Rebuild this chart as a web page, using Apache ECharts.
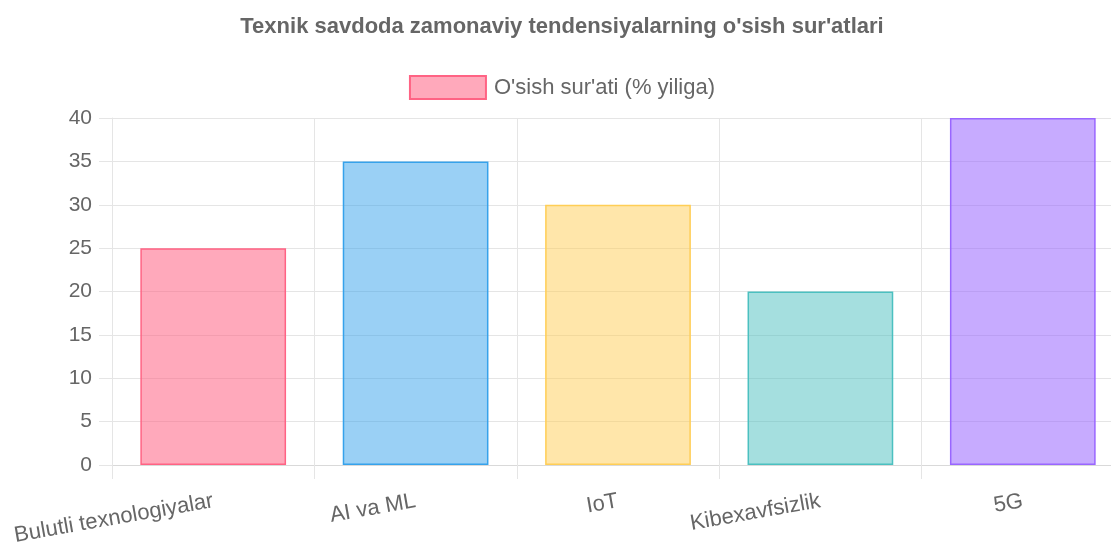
<!DOCTYPE html>
<html>
<head>
<meta charset="utf-8">
<script src="https://cdn.jsdelivr.net/npm/echarts@6/dist/echarts.min.js"></script>
<style>
  html, body { margin: 0; padding: 0; background: #fff; overflow: hidden; }
  #chart { width: 1124px; height: 542px; }
</style>
</head>
<body>
<div id="chart"></div>
<script>
const categories = ['Bulutli texnologiyalar', 'AI va ML', 'IoT', 'Kibexavfsizlik', '5G']
const growthValues = [25, 35, 30, 20, 40]
const seriesName = "O'sish sur'ati (% yiliga)"
const titleText = "Texnik savdoda zamonaviy tendensiyalarning o'sish sur'atlari"

const fills = [
  'rgba(255, 99, 132, 0.55)',
  'rgba(54, 162, 235, 0.5)',
  'rgba(255, 206, 86, 0.5)',
  'rgba(75, 192, 192, 0.5)',
  'rgba(153, 102, 255, 0.55)'
]
const borders = [
  'rgb(255, 99, 132)',
  'rgb(54, 162, 235)',
  'rgb(255, 206, 86)',
  'rgb(75, 192, 192)',
  'rgb(153, 102, 255)'
]

// the chart is a bit wider than the window, the right edge is cut off like in the original
const chart = echarts.init(document.getElementById('chart'))
const font = '"Liberation Sans", Arial, sans-serif'

chart.setOption({
  animation: false,
  title: {
    text: titleText,
    left: 'center',
    top: 11,
    textStyle: {
      color: '#666',
      fontSize: 22,
      fontWeight: 'bold',
      fontFamily: font
    }
  },
  legend: {
    top: 70,
    left: 'center',
    icon: 'rect',
    itemWidth: 76,
    itemHeight: 23,
    itemGap: 10,
    data: [seriesName],
    textStyle: {
      color: '#666',
      fontSize: 22,
      fontFamily: font,
      padding: [0, 0, 0, 3]
    },
    itemStyle: {
      color: fills[0],
      borderColor: borders[0],
      borderWidth: 2
    }
  },
  grid: {
    left: 112,
    right: 0,
    top: 118,
    bottom: 77,
    outerBoundsMode: 'none',
    containLabel: false
  },
  xAxis: {
    type: 'category',
    data: categories,
    boundaryGap: true,
    axisLine: { show: true, lineStyle: { color: '#d9d9d9' } },
    axisTick: { show: true, length: 14, lineStyle: { color: '#e5e5e5' } },
    splitLine: { show: true, lineStyle: { color: '#e5e5e5' } },
    axisLabel: {
      rotate: 10,
      margin: 36,
      color: '#666',
      fontSize: 22,
      fontFamily: font,
      interval: 0
    }
  },
  yAxis: {
    type: 'value',
    min: 0,
    max: 40,
    interval: 5,
    axisLine: { show: true, lineStyle: { color: '#e5e5e5' } },
    axisTick: { show: true, length: 13, lineStyle: { color: '#e5e5e5' } },
    splitLine: { show: true, lineStyle: { color: '#e5e5e5' } },
    axisLabel: {
      color: '#666',
      fontSize: 21,
      fontFamily: font,
      margin: 20
    }
  },
  series: [
    {
      name: seriesName,
      type: 'bar',
      barWidth: '72%',
      data: growthValues.map((v, i) => ({
        value: v,
        itemStyle: {
          color: fills[i],
          borderColor: borders[i],
          borderWidth: 1.5
        }
      }))
    }
  ]
})
</script>
</body>
</html>
